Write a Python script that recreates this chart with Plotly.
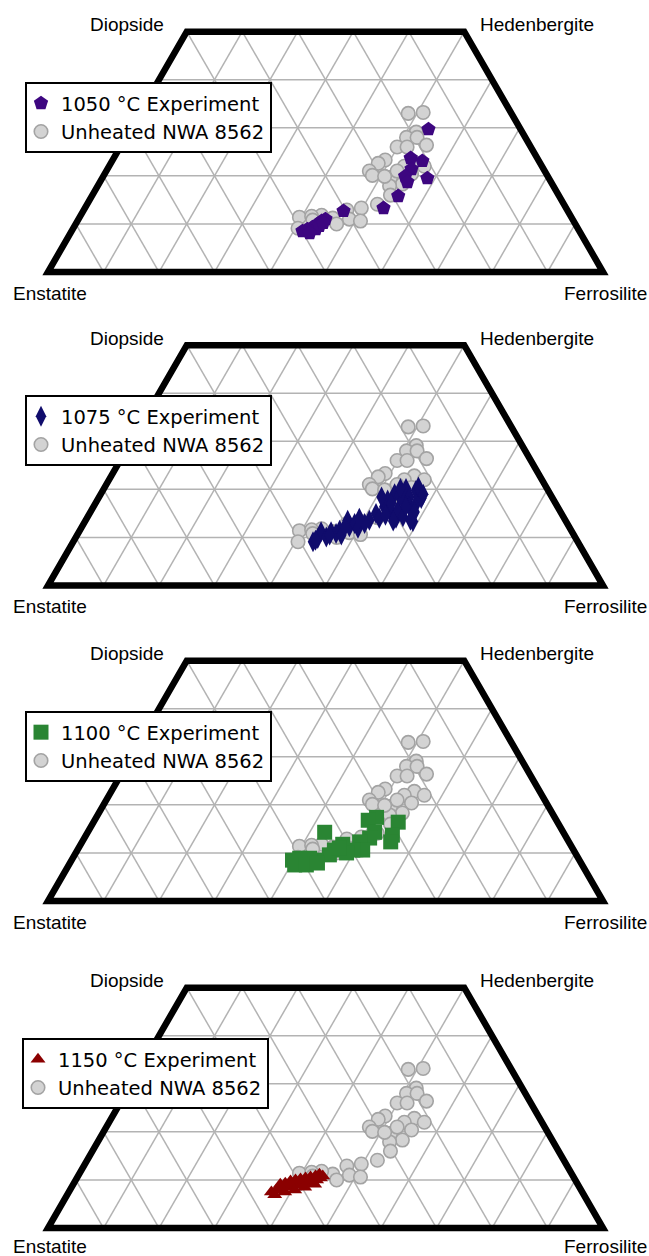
import math
import plotly.graph_objects as go

# Pyroxene quadrilateral (Di-Hd-En-Fs), compositions in mol% Wo and Fs (En = 100 - Wo - Fs)

# Unheated NWA 8562 pyroxenes
unheated_wo = [33.0, 33.2, 29.1, 28.0, 28.0, 26.4, 26.0, 26.0, 23.3, 22.6, 21.0, 20.1,
               22.8, 22.0, 22.0, 20.4, 19.7, 21.0, 18.3, 17.9, 16.0, 14.1, 13.3, 12.9,
               11.0, 10.6, 11.2, 10.0, 11.8, 11.4, 11.6, 9.1, 19.9, 10.8]
unheated_fs = [48.4, 51.0, 51.8, 50.6, 52.5, 55.0, 49.9, 51.7, 49.1, 48.2, 47.4, 48.4,
               54.6, 53.2, 56.8, 55.3, 51.9, 52.4, 54.7, 52.6, 53.7, 52.3, 49.8, 47.4,
               48.8, 51.0, 45.7, 47.0, 43.4, 39.6, 41.7, 40.5, 50.7, 42.3]

# 1050 °C experiment
exp1050_wo = [29.7, 23.7, 23.1, 21.4, 19.9, 18.7, 19.5, 15.8, 13.3, 12.7, 11.0, 10.6,
              10.0, 9.3, 8.9, 8.5, 8.9, 9.6, 8.1, 10.2]
exp1050_fs = [53.7, 53.5, 55.9, 54.8, 54.4, 55.4, 58.6, 55.2, 53.8, 46.9, 44.5, 44.0,
              43.6, 43.0, 42.3, 41.6, 43.8, 44.1, 43.1, 44.5]

# 1075 °C experiment
exp1075_wo = [9.1, 9.8, 11.2, 10.1, 11.2, 10.8, 11.5, 10.5, 13.6, 12.2, 12.9, 11.9,
              12.9, 13.6, 15.0, 14.0, 16.4, 17.8, 15.7, 19.1, 14.0, 15.7, 18.8, 17.8,
              14.3, 20.2, 18.4, 16.4, 13.3, 19.8, 17.1, 18.1,
              18.4, 17.1, 20.2, 16.5, 15.3, 20.5, 13.4, 13.6, 19.0, 14.6, 14.0, 12.1,
              10.5, 9.4]
exp1075_fs = [43.2, 43.7, 43.6, 45.1, 45.4, 46.5, 46.8, 47.6, 47.2, 48.2, 48.8, 49.9,
              50.6, 51.1, 51.6, 52.7, 52.4, 52.3, 53.7, 52.9, 55.7, 55.2, 53.9, 55.0,
              56.8, 54.4, 55.9, 56.9, 59.1, 56.4, 57.8, 58.2,
              50.9, 53.3, 53.4, 56.2, 58.4, 56.5, 55.5, 58.5, 58.1, 53.5, 49.1, 47.4,
              45.5, 43.5]

# 1100 °C experiment
exp1100_wo = [14.3, 17.4, 16.8, 16.4, 13.7, 12.3, 14.3, 13.1, 12.3, 10.6, 10.6, 11.8,
              10.6, 9.6, 8.5, 8.9, 8.9, 8.5, 7.5, 7.5, 7.9, 10.0, 11.0]
exp1100_fs = [42.7, 50.5, 49.3, 54.9, 55.2, 55.6, 51.7, 51.4, 50.0, 51.4, 49.6, 47.2,
              46.3, 45.9, 44.1, 42.7, 40.9, 39.8, 40.7, 42.8, 44.6, 48.8, 47.0]

# 1150 °C experiment
exp1150_wo = [7.5, 7.9, 8.3, 8.5, 8.7, 8.9, 9.1, 9.3, 9.8, 10.0, 10.4, 9.1, 9.3,
              9.8, 10.0, 10.2, 10.4, 10.6, 10.8, 11.2, 10.8, 6.9, 7.5, 7.9, 8.5, 9.1]
exp1150_fs = [36.5, 37.2, 37.9, 38.7, 39.5, 40.3, 41.1, 41.9, 42.6, 43.4, 43.9, 37.3,
              38.1, 38.8, 39.6, 40.4, 41.2, 42.0, 42.8, 43.3, 44.1, 37.4, 38.9, 40.5,
              42.0, 43.5]

corner_labels = ["Diopside", "Hedenbergite", "Enstatite", "Ferrosilite"]
grid_steps = [10, 20, 30, 40, 50, 60, 70, 80, 90]

experiments = [
    ("1050 °C Experiment", exp1050_wo, exp1050_fs, "pentagon", 15, "#3d0680"),
    ("1075 °C Experiment", exp1075_wo, exp1075_fs, "diamond-tall", 15, "#100c6c"),
    ("1100 °C Experiment", exp1100_wo, exp1100_fs, "square", 15, "#2a8533"),
    ("1150 °C Experiment", exp1150_wo, exp1150_fs, "triangle-up", 13, "#8b0000"),
]

H = math.sqrt(3) / 2


def to_xy(wo, fs):
    return ([f + w / 2 for w, f in zip(wo, fs)], [w * H for w in wo])


W, HT = 649, 1256
PX = 5.55                       # pixels per composition unit
X_LEFT = 48                     # pixel position of the En corner
baselines = [272, 585.5, 901, 1228]   # pixel row of the En-Fs edge per panel
legend_tops = [82, 395, 711, 1038]
legend_lefts = [25, 25, 25, 22]
bottom_label_shift = [-21, -21, -21, -18]

fig = go.Figure()
layout = dict(width=W, height=HT, margin=dict(l=0, r=0, t=0, b=0),
              paper_bgcolor="white", plot_bgcolor="rgba(0,0,0,0)",
              showlegend=True, shapes=[], annotations=[])

label_font = "Liberation Sans, Arial, sans-serif"
legend_font = "DejaVu Sans, sans-serif"

for i, (name, wo, fs, sym, size, color) in enumerate(experiments):
    n = i + 1
    xa = "x" if n == 1 else f"x{n}"
    ya = "y" if n == 1 else f"y{n}"
    leg = "legend" if n == 1 else f"legend{n}"
    B = baselines[i]
    top_px, bot_px = B - 262, B + 26

    layout["xaxis" if n == 1 else f"xaxis{n}"] = dict(
        domain=[0, 1], range=[-X_LEFT / PX, (W - X_LEFT) / PX],
        visible=False, fixedrange=True, anchor=ya)
    layout["yaxis" if n == 1 else f"yaxis{n}"] = dict(
        domain=[1 - bot_px / HT, 1 - top_px / HT],
        range=[-(bot_px - B) / PX, (B - top_px) / PX],
        visible=False, fixedrange=True, anchor=xa)

    # triangular grid
    grid = dict(type="line", xref=xa, yref=ya, layer="below",
                line=dict(color="#b3b3b3", width=1.5))
    for g in grid_steps:
        if g < 50:
            layout["shapes"].append(dict(grid, x0=g / 2, y0=g * H, x1=100 - g / 2, y1=g * H))
        top = min(50, 100 - g)
        # constant Fs
        layout["shapes"].append(dict(grid, x0=g, y0=0, x1=g + top / 2, y1=top * H))
        # constant En
        layout["shapes"].append(dict(grid, x0=100 - g, y0=0, x1=100 - g - top / 2, y1=top * H))

    # quadrilateral outline
    path = f"M0,0 L100,0 L75,{50 * H} L25,{50 * H} Z"
    layout["shapes"].append(dict(type="path", path=path, xref=xa, yref=ya, layer="below",
                                 line=dict(color="black", width=6.5)))

    # corner labels
    lab = dict(xref=xa, yref=ya, showarrow=False,
               font=dict(family=label_font, size=19, color="black"))
    layout["annotations"] += [
        dict(lab, text=corner_labels[0], x=25, y=50 * H, xanchor="right", yanchor="middle",
             xshift=-21, yshift=7),
        dict(lab, text=corner_labels[1], x=75, y=50 * H, xanchor="left", yanchor="middle",
             xshift=14, yshift=7),
        dict(lab, text=corner_labels[2], x=0, y=0, xanchor="center", yanchor="middle",
             xshift=2, yshift=bottom_label_shift[i]),
        dict(lab, text=corner_labels[3], x=100, y=0, xanchor="right", yanchor="middle",
             xshift=46, yshift=bottom_label_shift[i]),
    ]

    ux, uy = to_xy(unheated_wo, unheated_fs)
    fig.add_trace(go.Scatter(
        x=ux, y=uy, xaxis=xa, yaxis=ya, mode="markers", name="Unheated NWA 8562",
        legend=leg, legendrank=2, cliponaxis=False,
        marker=dict(symbol="circle", size=13.5, color="#d3d3d3",
                    line=dict(color="#a3a3a3", width=1.6))))
    ex, ey = to_xy(wo, fs)
    fig.add_trace(go.Scatter(
        x=ex, y=ey, xaxis=xa, yaxis=ya, mode="markers", name=name,
        legend=leg, legendrank=1, cliponaxis=False,
        marker=dict(symbol=sym, size=size, color=color, line=dict(width=0))))

    layout[leg] = dict(
        x=legend_lefts[i] / W, y=1 - legend_tops[i] / HT, xanchor="left", yanchor="top",
        bgcolor="white", bordercolor="black", borderwidth=2,
        font=dict(family=legend_font, size=19.5, color="black"),
        itemwidth=30, indentation=-6, tracegroupgap=0, traceorder="normal")

fig.update_layout(**layout)
fig.write_html("out.html")
